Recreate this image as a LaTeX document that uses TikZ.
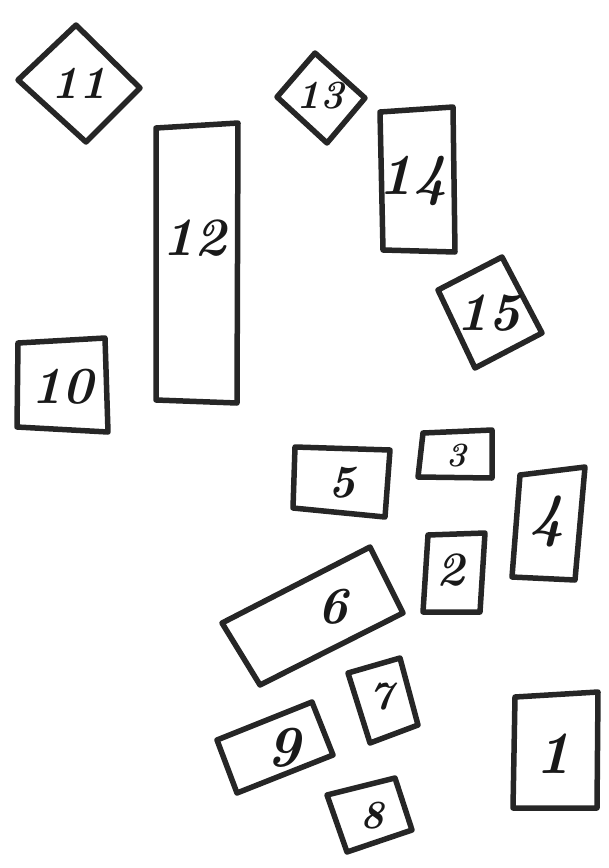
\documentclass[tikz,border=0pt]{standalone}
\usepackage{tikz}
\tikzset{
  sketch/.style={draw=black!85, line width=5.5pt, line join=round, line cap=round},
  num/.style={font=\bfseries\itshape, text=black!90, inner sep=0pt},
}
\newcommand{\sz}[1]{\fontsize{#1}{#1}\selectfont}
\begin{document}
\begin{tikzpicture}[x=1pt,y=-1pt]
\useasboundingbox (0,0) rectangle (609,868);
% 11 diamond
\draw[sketch] (18,80) -- (76,25) -- (140,88) -- (86,142) -- cycle;
\node[num] (n11) at (79,83) {\sz{46}11};
% 12 tall rectangle
\draw[sketch] (156,128) -- (238,123) -- (237,403) -- (156,400) -- cycle;
\node[num] (n12) at (194,238) {\sz{54}12};
% 10
\draw[sketch] (18,343) -- (105,338) -- (108,432) -- (17,427) -- cycle;
\node[num] (n10) at (62,387) {\sz{52}10};
% 13 diamond
\draw[sketch] (277,97) -- (315,53) -- (365,98) -- (327,143) -- cycle;
\node[num] (n13) at (320,96) {\sz{40}13};
% 14
\draw[sketch] (380,112) -- (453,107) -- (455,252) -- (383,250) -- cycle;
\node[num] (n14) at (413,181) {\sz{58}14};
% 15
\draw[sketch] (438,290) -- (502,257) -- (542,333) -- (475,368) -- cycle;
\node[num] (n15) at (488,313) {\sz{54}15};
% 5
\draw[sketch] (295,447) -- (390,450) -- (385,517) -- (293,508) -- cycle;
\node[num] (n5) at (342,483) {\sz{46}5};
% 3
\draw[sketch] (423,433) -- (492,430) -- (492,478) -- (418,477) -- cycle;
\node[num] (n3) at (457,456) {\sz{34}3};
% 4
\draw[sketch] (520,475) -- (585,467) -- (575,580) -- (512,577) -- cycle;
\node[num] (n4) at (547,521) {\sz{60}4};
% 2
\draw[sketch] (428,535) -- (485,533) -- (480,612) -- (423,612) -- cycle;
\node[num] (n2) at (451,570) {\sz{48}2};
% 6
\draw[sketch] (222,623) -- (370,547) -- (403,613) -- (260,685) -- cycle;
\node[num] (n6) at (333,607) {\sz{52}6};
% 7
\draw[sketch] (348,673) -- (400,658) -- (418,725) -- (370,743) -- cycle;
\node[num] (n7) at (381,697) {\sz{40}7};
% 9
\draw[sketch] (217,740) -- (312,702) -- (333,755) -- (237,793) -- cycle;
\node[num] (n9) at (284,748) {\sz{58}9};
% 8
\draw[sketch] (327,795) -- (395,778) -- (412,830) -- (347,852) -- cycle;
\node[num] (n8) at (372,816) {\sz{40}8};
% 1
\draw[sketch] (515,697) -- (598,692) -- (597,808) -- (513,808) -- cycle;
\node[num] (n1) at (553,754) {\sz{60}1};
\end{tikzpicture}
\end{document}
